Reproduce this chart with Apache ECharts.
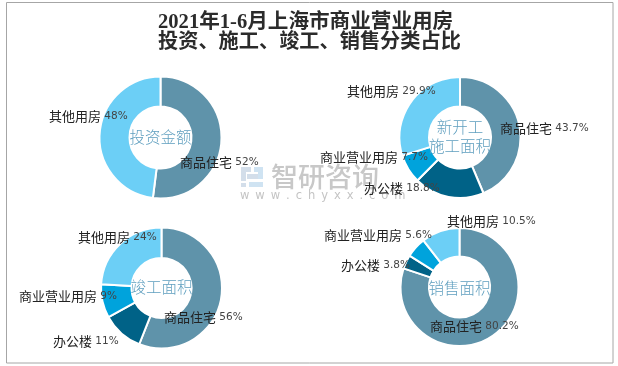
<!DOCTYPE html>
<html><head><meta charset="utf-8">
<style>html,body{margin:0;padding:0;background:#fff}#c{width:618px;height:366px}</style>
<script src="https://cdn.jsdelivr.net/npm/echarts@6/dist/echarts.min.js"></script>
</head><body><div id="c"></div>
<script>
const titleLines = ['2021年1-6月上海市商业营业用房', '投资、施工、竣工、销售分类占比'];
const namesTwo = ['商品住宅', '其他用房'];
const namesFour = ['商品住宅', '办公楼', '商业营业用房', '其他用房'];
const investment = [52, 48];
const newStarts = [43.7, 18.8, 7.7, 29.9];
const completed = [56, 11, 9, 24];
const sales = [80.2, 3.8, 5.6, 10.5];
const colorsTwo = ['#5f93aa', '#6ccff6'];
const colorsFour = ['#5f93aa', '#006287', '#00a3dc', '#6ccff6'];

const cjk = '"Noto Sans CJK SC"';
const panels = [
  {name:'投资金额', names:namesTwo, vals:investment, colors:colorsTwo, c:[160.5,137.5], r:61, ri:31, ty:137,
   lab:[[180,162],[49,116]]},
  {name:'新开工\n施工面积', names:namesFour, vals:newStarts, colors:colorsFour, c:[460,137.5], r:60.5, ri:31, ty:137,
   lab:[[500,128],[364,188],[320,157],[347,91]]},
  {name:'竣工面积', names:namesFour, vals:completed, colors:colorsFour, c:[161.5,288], r:60.5, ri:30, ty:287,
   lab:[[164,317],[53,341],[19,296],[78,237]]},
  {name:'销售面积', names:namesFour, vals:sales, colors:colorsFour, c:[459.5,287], r:59, ri:30.5, ty:288,
   lab:[[430,326],[341,265],[324,235],[447,221]]}
];

const series = panels.map(p => ({
  type:'pie', center:p.c, radius:[p.ri,p.r], startAngle:90, clockwise:true, silent:true, animation:false,
  z:3,
  itemStyle:{borderColor:'#fff', borderWidth:2},
  labelLine:{show:false},
  label:{
    show:true, position:'outside', alignTo:'none', overflow:'none',
    formatter:d => '{n|'+d.name+'} {v|'+d.value+'%}',
    rich:{
      n:{fontFamily:cjk, fontSize:13, color:'#222'},
      v:{fontFamily:'"DejaVu Sans"', fontSize:10.5, color:'#444'}
    }
  },
  labelLayout:i => ({x:p.lab[i.dataIndex][0], y:p.lab[i.dataIndex][1], align:'left', verticalAlign:'middle', hideOverlap:false}),
  data:p.names.map((n,i)=>({name:n, value:p.vals[i], itemStyle:{color:p.colors[i]}}))
}));

const centerTexts = panels.map(p => ({
  type:'text', z:20, x:p.c[0], y:p.ty,
  style:{text:p.name, fill:'#5f9fbf', font:'300 15.5px '+cjk, align:'center', verticalAlign:'middle', lineHeight:19}
}));

const frame = {type:'rect', z:0, shape:{x:6.5,y:2.5,width:606.5,height:360.5}, style:{fill:'#fff', stroke:'#a6a6a6', lineWidth:1}};
const titleSizes = [20.6, 20.2];
const titleText = titleLines.map((t,i)=>({
  type:'text', z:10, x:158, y:23+i*20,
  style:{text:t, fill:'#2b2b2b', font:'bold '+titleSizes[i]+'px "Liberation Serif", "Noto Sans CJK SC"', align:'left', verticalAlign:'middle'}
}));
const logoRects = [
  [241,167,10,5,'#d3deea'],[241,167,5,14,'#d3deea'],[254,167,9,5,'#cfe3f2'],[258,167,5,12,'#cfe3f2'],
  [247,174,11,5,'#d3deea'],[241,183,5,4,'#d3deea'],[249,182,14,5,'#cfe3f2']
].map(r=>({type:'rect', z:1, shape:{x:r[0],y:r[1],width:r[2],height:r[3]}, style:{fill:r[4]}}));
const watermark = [
  {type:'text', z:1, x:271, y:177, style:{text:'智研咨询', fill:'#c8c8c8', font:'500 27px '+cjk, align:'left', verticalAlign:'middle'}},
  {type:'text', z:1, x:240, y:196, style:{text:'w w w . c h y x x . c o m'.split(' ').join(' \u2009'), fill:'#c4c4c4', font:'11.5px "DejaVu Sans"', align:'left', verticalAlign:'middle'}}
];

const chart = echarts.init(document.getElementById('c'), null, {renderer:'canvas'});
chart.setOption({
  animation:false,
  backgroundColor:'#fff',
  graphic:{elements:[frame,...titleText,...logoRects,...watermark,...centerTexts]},
  series
});
</script></body></html>
